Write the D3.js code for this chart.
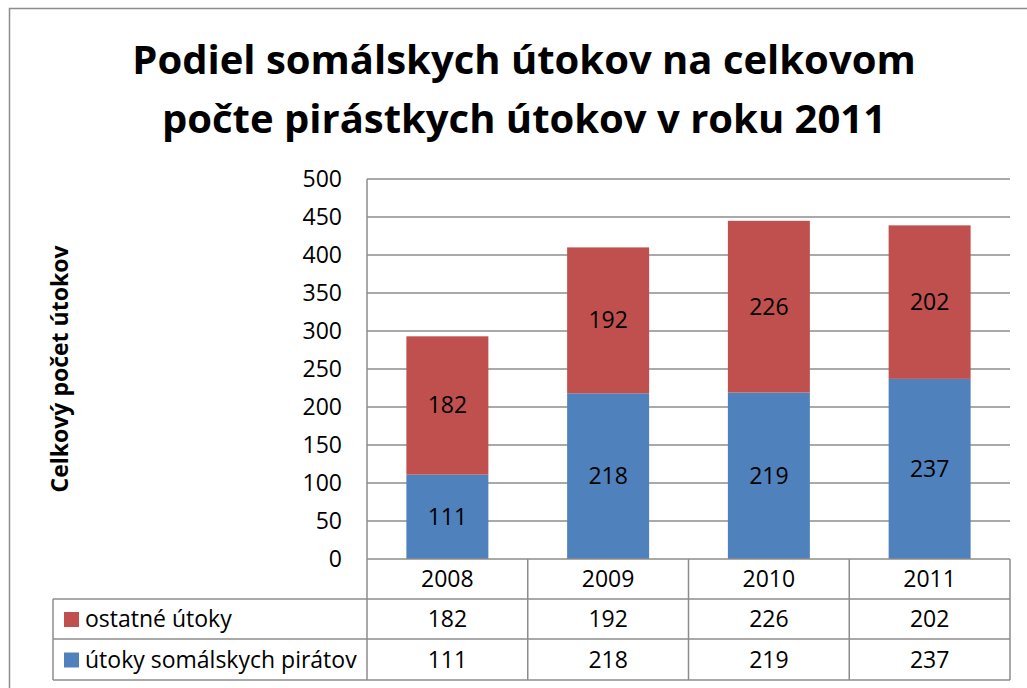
<!DOCTYPE html>
<html>
<head>
<meta charset="utf-8">
<script src="https://cdn.jsdelivr.net/npm/d3@7"></script>
<style>
  body { margin: 0; background: #fff; }
  svg { display: block; font-family: "Open Sans", Lato, sans-serif; }
</style>
</head>
<body>
<svg id="chart" width="1027" height="688"></svg>
<script>
var years = ["2008", "2009", "2010", "2011"];
var seriesNames = ["ostatné útoky", "útoky somálskych pirátov"];
var other = [182, 192, 226, 202];
var somali = [111, 218, 219, 237];
var yTicks = [0, 50, 100, 150, 200, 250, 300, 350, 400, 450, 500];
var titleLines = ["Podiel somálskych útokov na celkovom", "počte pirástkych útokov v roku 2011"];
var yTitle = "Celkový počet útokov";

var colors = { other: "#C0504D", somali: "#4F81BD" };
var lineColor = "#8c8c8c";
var fs = 23;
var dy = 8;

var svg = d3.select("#chart");

// outer frame
svg.append("path")
    .attr("d", "M9.5,688 V8.5 H1027")
    .attr("fill", "none")
    .attr("stroke", lineColor)
    .attr("stroke-width", 1.5);

var x = d3.scaleBand()
    .domain(years)
    .range([367, 1010])
    .paddingInner(0.49)
    .paddingOuter(0.245);

var y = d3.scaleLinear()
    .domain([0, 500])
    .range([559, 179]);

// title
svg.append("g").selectAll("text")
  .data(titleLines)
  .enter().append("text")
    .attr("x", 524)
    .attr("y", function(d, i) { return 74 + i * 59; })
    .attr("text-anchor", "middle")
    .attr("font-size", 40)
    .attr("font-weight", "bold")
    .text(function(d) { return d; });

// gridlines
svg.append("g").selectAll("line")
  .data(yTicks.filter(function(d) { return d > 0; }))
  .enter().append("line")
    .attr("x1", 367).attr("x2", 1010)
    .attr("y1", function(d) { return y(d); })
    .attr("y2", function(d) { return y(d); })
    .attr("stroke", lineColor)
    .attr("stroke-width", 1.5);

// y axis labels
svg.append("g").selectAll("text")
  .data(yTicks)
  .enter().append("text")
    .attr("x", 342)
    .attr("y", function(d) { return y(d) + dy; })
    .attr("text-anchor", "end")
    .attr("font-size", fs)
    .text(function(d) { return d; });

svg.append("text")
    .attr("transform", "translate(68,369) rotate(-90)")
    .attr("text-anchor", "middle")
    .attr("font-size", 23)
    .attr("font-weight", "bold")
    .text(yTitle);

// stacked bars
var rows = years.map(function(yr, i) { return { year: yr, somali: somali[i], other: other[i] }; });
var stack = d3.stack().keys(["somali", "other"])(rows);

var layers = svg.append("g").selectAll("g")
  .data(stack)
  .enter().append("g")
    .attr("fill", function(d) { return colors[d.key]; });

layers.selectAll("rect")
  .data(function(d) { return d; })
  .enter().append("rect")
    .attr("x", function(d) { return x(d.data.year); })
    .attr("width", x.bandwidth())
    .attr("y", function(d) { return y(d[1]); })
    .attr("height", function(d) { return y(d[0]) - y(d[1]); });

layers.selectAll("text")
  .data(function(d) { return d; })
  .enter().append("text")
    .attr("x", function(d) { return x(d.data.year) + x.bandwidth() / 2; })
    .attr("y", function(d) { return (y(d[0]) + y(d[1])) / 2 + dy; })
    .attr("text-anchor", "middle")
    .attr("font-size", fs)
    .attr("fill", "#000")
    .text(function(d) { return d[1] - d[0]; });

// data table
var table = svg.append("g")
    .attr("stroke", lineColor)
    .attr("stroke-width", 1.5);
var step = x.step();
var x0 = 367, x1 = 1010;
var rowY = [559, 599, 639, 680];

table.append("line").attr("x1", x0).attr("x2", x0).attr("y1", 179).attr("y2", 680);
years.forEach(function(yr, i) {
  var bx = x0 + step * (i + 1);
  table.append("line").attr("x1", bx).attr("x2", bx).attr("y1", 559).attr("y2", 680);
});
table.append("line").attr("x1", x0).attr("x2", x1).attr("y1", 559).attr("y2", 559);
table.append("line").attr("x1", 53).attr("x2", x1).attr("y1", 599).attr("y2", 599);
table.append("line").attr("x1", 53).attr("x2", x1).attr("y1", 639).attr("y2", 639);
table.append("line").attr("x1", 53).attr("x2", x1).attr("y1", 680).attr("y2", 680);
table.append("line").attr("x1", 53).attr("x2", 53).attr("y1", 599).attr("y2", 680);

var tableRows = [years, other, somali];
tableRows.forEach(function(vals, r) {
  svg.append("g").selectAll("text")
    .data(vals)
    .enter().append("text")
      .attr("x", function(d, i) { return x0 + step * (i + 0.5); })
      .attr("y", (rowY[r] + rowY[r + 1]) / 2 + dy)
      .attr("text-anchor", "middle")
      .attr("font-size", fs)
      .text(function(d) { return d; });
});

// legend keys in table
var legendColors = [colors.other, colors.somali];
seriesNames.forEach(function(name, i) {
  var cy = (rowY[i + 1] + rowY[i + 2]) / 2;
  svg.append("rect")
    .attr("x", 64).attr("y", cy - 7)
    .attr("width", 15).attr("height", 15)
    .attr("fill", legendColors[i]);
  svg.append("text")
    .attr("x", 85).attr("y", cy + dy)
    .attr("font-size", fs)
    .text(name);
});
</script>
</body>
</html>
